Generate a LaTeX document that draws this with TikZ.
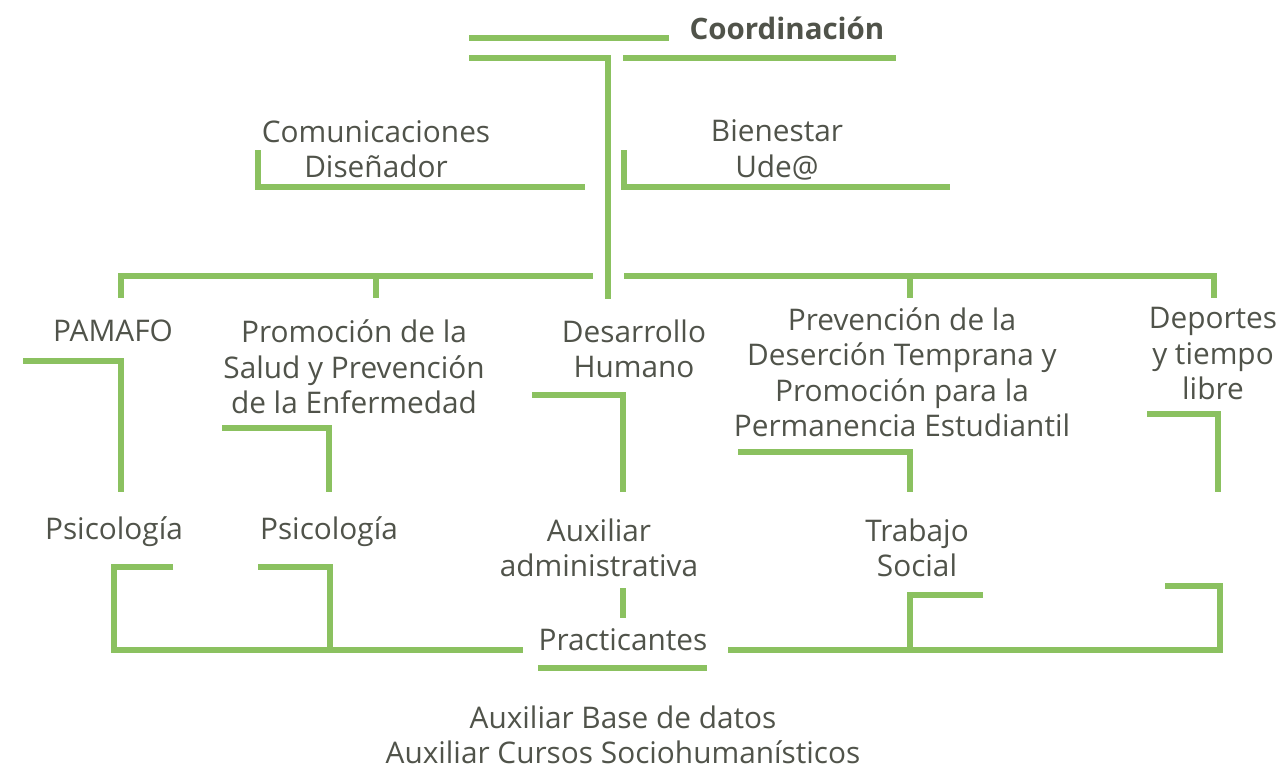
\documentclass[tikz,border=0pt]{standalone}
\usepackage{fontspec}
\setmainfont{Open Sans}
\definecolor{txt}{HTML}{50534A}
\definecolor{grn}{HTML}{8BC160}
\begin{document}
\begin{tikzpicture}[x=1pt,y=-1pt,
  ln/.style={draw=grn,line width=6.5pt,line join=miter},
  lbl/.style={text=txt,align=center,inner sep=0pt,font=\fontsize{29.8}{35.5}\selectfont},
  boldlbl/.style={lbl,font=\fontsize{29.5}{35.5}\selectfont\bfseries}]
\useasboundingbox (0,0) rectangle (1283,768);
% texts
\node[boldlbl] (coord) at (787,28) {Coordinación};
\node[lbl] (com) at (376,149) {Comunicaciones\\Diseñador};
\node[lbl] (bie) at (777,150) {Bienestar\\Ude@};
\node[lbl] (pam) at (113,331) {PAMAFO};
\node[lbl] (pro) at (354,367) {Promoción de la\\Salud y Prevención\\de la Enfermedad};
\node[lbl] (des) at (634,349) {Desarrollo\\Humano};
\node[lbl] (pre) at (902,372) {Prevención de la\\Deserción Temprana y\\Promoción para la\\Permanencia Estudiantil};
\node[lbl] (dep) at (1213,354) {Deportes\\y tiempo\\libre};
\node[lbl] (psi1) at (114,532) {Psicología};
\node[lbl] (psi2) at (329,532) {Psicología};
\node[lbl] (aux) at (599,548) {Auxiliar\\administrativa};
\node[lbl] (tra) at (917,548) {Trabajo\\Social};
\node[lbl] (pra) at (623,640) {Practicantes};
\node[lbl] (bas) at (623,735) {Auxiliar Base de datos\\Auxiliar Cursos Sociohumanísticos};
% top
\draw[ln] (469,38) -- (669,38);
\draw[ln] (469,58) -- (608,58) -- (608,299);
\draw[ln] (623,58) -- (896,58);
\draw[ln] (258,150) -- (258,187) -- (585,187);
\draw[ln] (624,150) -- (624,187) -- (950,187);
% row
\draw[ln] (121,298) -- (121,276) -- (593,276);
\draw[ln] (376,276) -- (376,298);
\draw[ln] (624,276) -- (1214,276) -- (1214,298);
\draw[ln] (910,276) -- (910,298);
% second level
\draw[ln] (23,361) -- (121,361) -- (121,492);
\draw[ln] (222,428) -- (329,428) -- (329,492);
\draw[ln] (532,395) -- (623,395) -- (623,492);
\draw[ln] (738,452) -- (910,452) -- (910,492);
\draw[ln] (1147,414) -- (1218,414) -- (1218,492);
% bottom
\draw[ln] (173,567) -- (114,567) -- (114,650) -- (523,650);
\draw[ln] (258,567) -- (330,567) -- (330,650);
\draw[ln] (623,588) -- (623,618);
\draw[ln] (538,668) -- (707,668);
\draw[ln] (728,650) -- (1220,650) -- (1220,586) -- (1165,586);
\draw[ln] (983,595) -- (910,595) -- (910,650);
\end{tikzpicture}
\end{document}
